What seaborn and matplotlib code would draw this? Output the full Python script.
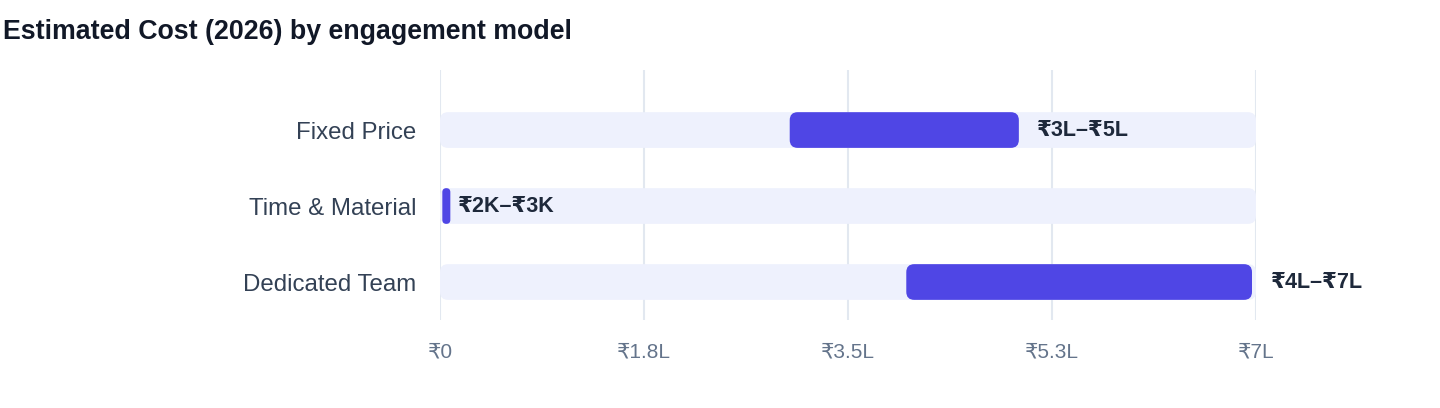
import matplotlib
matplotlib.use("Agg")
import matplotlib.pyplot as plt
from matplotlib.patches import FancyBboxPatch
import seaborn as sns

# ---------------------------------------------------------------
# data (rupees)
# ---------------------------------------------------------------
models = ["Fixed Price", "Time & Material", "Dedicated Team"]
cost_low = [300000, 2000, 400000]
cost_high = [500000, 3000, 700000]
range_labels = ["₹3L–₹5L", "₹2K–₹3K", "₹4L–₹7L"]
axis_max = 700000
tick_values = [0, 175000, 350000, 525000, 700000]
tick_labels = ["₹0", "₹1.8L", "₹3.5L", "₹5.3L", "₹7L"]

TRACK = "#eef1fd"
BAR = "#4f46e5"
LABEL = "#334155"
VALUE = "#1e293b"
TICK = "#64748b"
GRID = "#e2e8f0"

sns.set_theme(style="white")
plt.rcParams["font.family"] = ["Liberation Sans", "DejaVu Sans"]

fig = plt.figure(figsize=(14.4, 4.08), dpi=100)
ax = fig.add_axes([440 / 1440, 1 - 320 / 408, 816 / 1440, 250 / 408])

bar_h = 0.47
# background tracks spanning the full scale
sns.barplot(x=[axis_max] * len(models), y=models, color=TRACK, width=bar_h,
            orient="h", saturation=1, ax=ax)
# actual cost ranges (small right inset, tiny ranges kept visible)
px_x = axis_max / 816          # rupees per pixel
min_w = 8 * px_x
widths = [max(h - l - 4 * px_x, min_w) for l, h in zip(cost_low, cost_high)]
ax.barh(range(len(models)), widths, left=cost_low, height=bar_h, color=BAR)

ax.set_xlim(0, axis_max)
ax.set_ylim(2.5, -0.79)

# swap square bars for rounded ones
px_y = 1 / 76                  # category units per pixel
for p in list(ax.patches):
    x, y = p.get_x(), p.get_y()
    w, h = p.get_width(), p.get_height()
    r = min(8 * px_x, w / 2)
    aspect = (8 * px_y) / (8 * px_x)
    rb = FancyBboxPatch((x, y), w, h, boxstyle=f"round,pad=0,rounding_size={r}",
                        mutation_aspect=aspect, facecolor=p.get_facecolor(),
                        edgecolor="none", zorder=p.get_zorder())
    p.remove()
    ax.add_patch(rb)

for i, (hi, txt) in enumerate(zip(cost_high, range_labels)):
    ax.annotate(txt, (hi, i), xytext=(10.5, 0), textcoords="offset points",
                ha="left", va="center", fontsize=15.5, fontweight="bold", color=VALUE)

ax.set_xticks(tick_values)
ax.set_xticklabels(tick_labels)
ax.grid(axis="x", color=GRID, linewidth=1.5)
ax.grid(axis="y", visible=False)
ax.set_axisbelow(True)
ax.tick_params(axis="x", length=0, pad=16, labelsize=15, labelcolor=TICK)
ax.tick_params(axis="y", length=0, pad=17, labelsize=17.3, labelcolor=LABEL)
ax.set_xlabel("")
ax.set_ylabel("")
sns.despine(ax=ax, left=True, bottom=True)

fig.text(0.002, 1 - 32 / 408, "Estimated Cost (2026) by engagement model",
         ha="left", va="center", fontsize=19.3, fontweight="bold", color="#111827")

fig.savefig("out.png", dpi=100)
